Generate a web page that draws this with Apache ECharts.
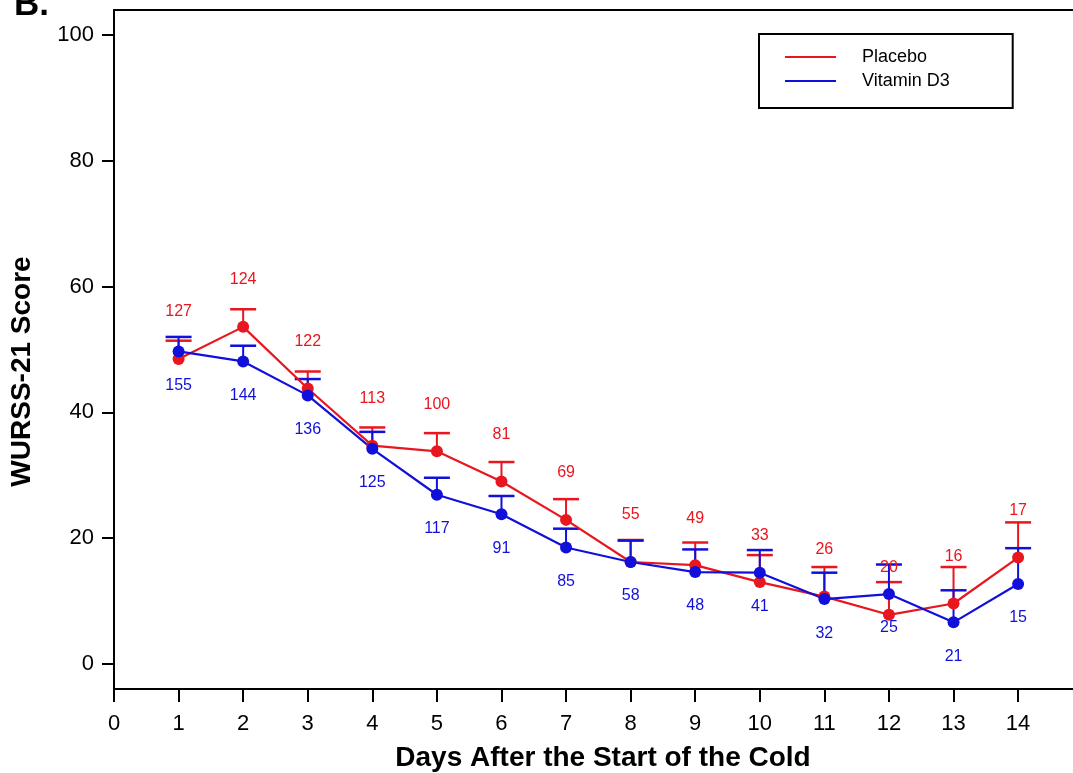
<!DOCTYPE html>
<html>
<head>
<meta charset="utf-8">
<script src="https://cdn.jsdelivr.net/npm/echarts@6/dist/echarts.min.js"></script>
<style>
html,body{margin:0;padding:0;background:#fff;}
#chart{width:1073px;height:773px;}
</style>
</head>
<body>
<div id="chart"></div>
<script>
// ---- data ----
const days = [1,2,3,4,5,6,7,8,9,10,11,12,13,14];
const placeboMean  = [48.5,53.6,43.8,34.7,33.8,29.0,22.9,16.2,15.7,13.0,10.7,7.8,9.6,16.9];
const placeboUpper = [51.4,56.4,46.5,37.6,36.7,32.1,26.2,19.7,19.3,17.3,15.4,13.0,15.4,22.5];
const placeboN     = [127,124,122,113,100,81,69,55,49,33,26,20,16,17];
const vitMean  = [49.7,48.1,42.7,34.2,26.9,23.8,18.5,16.2,14.6,14.5,10.3,11.1,6.6,12.7];
const vitUpper = [52.0,50.6,45.3,36.9,29.6,26.7,21.5,19.6,18.2,18.1,14.5,15.8,11.7,18.4];
const vitN     = [155,144,136,125,117,91,85,58,48,41,32,25,21,15];
const xTicks = [0,1,2,3,4,5,6,7,8,9,10,11,12,13,14];
const yTicks = [0,20,40,60,80,100];

const RED = '#e8161e';
const BLUE = '#1010da';
const FONT = "'Liberation Sans', Arial, sans-serif";

const chart = echarts.init(document.getElementById('chart'), null, {renderer:'canvas'});

function errorBarSeries(name, color, means, uppers) {
  return {
    name: name,
    type: 'custom',
    silent: true,
    data: days.map((d,i)=>[d, means[i], uppers[i]]),
    encode: {x:0, y:[1,2]},
    renderItem: function(params, api) {
      const x = api.value(0);
      const p0 = api.coord([x, api.value(1)]);
      const p1 = api.coord([x, api.value(2)]);
      const hw = 13;
      return {
        type: 'group',
        children: [
          {type:'line', shape:{x1:p0[0], y1:p0[1], x2:p1[0], y2:p1[1]}, style:{stroke:color, lineWidth:2}},
          {type:'line', shape:{x1:p1[0]-hw, y1:p1[1], x2:p1[0]+hw, y2:p1[1]}, style:{stroke:color, lineWidth:2.5}}
        ]
      };
    }
  };
}

function lineSeries(name, color, means, ns, offY) {
  return {
    name: name,
    type: 'line',
    data: days.map((d,i)=>[d, means[i]]),
    symbol: 'circle',
    symbolSize: 12,
    lineStyle: {color:color, width:2.2},
    itemStyle: {color:color},
    label: {
      show: true,
      position: 'inside',
      offset: [0, offY],
      color: color,
      fontSize: 16,
      fontFamily: FONT,
      formatter: (p)=> String(ns[p.dataIndex])
    },
    emphasis: {disabled:true},
    animation: false
  };
}

const option = {
  animation: false,
  backgroundColor: '#fff',
  grid: {left:114, top:10, right:0, bottom:84, containLabel:false},
  legend: {
    data: ['Placebo','Vitamin D3'],
    orient: 'vertical',
    left: 759,
    top: 34,
    padding: [13, 63, 17, 26],
    itemGap: 4,
    itemWidth: 51,
    itemHeight: 2,
    icon: 'rect',
    borderColor: '#000',
    borderWidth: 2,
    backgroundColor: '#fff',
    textStyle: {fontSize:18, fontFamily:FONT, color:'#000', lineHeight:20, padding:[0,0,0,21]}
  },
  xAxis: [{
    type: 'value',
    min: 0, max: 14.85,
    interval: 1,
    splitLine: {show:false},
    axisLine: {show:true, onZero:false, lineStyle:{color:'#000', width:2}},
    axisTick: {show:true, length:13, customValues: xTicks, lineStyle:{color:'#000', width:2}},
    axisLabel: {show:true, customValues: xTicks, margin:24, fontSize:22, fontFamily:FONT, color:'#000'}
  },{
    type: 'value',
    position: 'top',
    min: 0, max: 14.85,
    splitLine: {show:false},
    axisLine: {show:true, onZero:false, lineStyle:{color:'#000', width:2}},
    axisTick: {show:false},
    axisLabel: {show:false}
  }],
  yAxis: {
    type: 'value',
    min: -4, max: 104,
    splitLine: {show:false},
    axisLine: {show:true, onZero:false, lineStyle:{color:'#000', width:2}},
    axisTick: {show:true, length:12, customValues: yTicks, lineStyle:{color:'#000', width:2}},
    axisLabel: {show:true, customValues: yTicks, margin:20, fontSize:22, fontFamily:FONT, color:'#000'}
  },
  graphic: [
    {type:'text', x:603, y:758, style:{text:'Days After the Start of the Cold', font:"bold 28px 'Liberation Sans', Arial, sans-serif", fill:'#000', align:'center', verticalAlign:'middle'}},
    {type:'text', x:22.5, y:371.5, rotation:Math.PI/2, style:{text:'WURSS-21 Score', font:"bold 28px 'Liberation Sans', Arial, sans-serif", fill:'#000', align:'center', verticalAlign:'middle'}},
    {type:'text', x:14, y:5, style:{text:'B.', font:"bold 35px 'Liberation Sans', Arial, sans-serif", fill:'#000', align:'left', verticalAlign:'middle'}}
  ],
  series: [
    errorBarSeries('Placebo error', RED, placeboMean, placeboUpper),
    lineSeries('Placebo', RED, placeboMean, placeboN, -47),
    errorBarSeries('Vitamin D3 error', BLUE, vitMean, vitUpper),
    lineSeries('Vitamin D3', BLUE, vitMean, vitN, 34)
  ]
};
chart.setOption(option);
</script>
</body>
</html>
